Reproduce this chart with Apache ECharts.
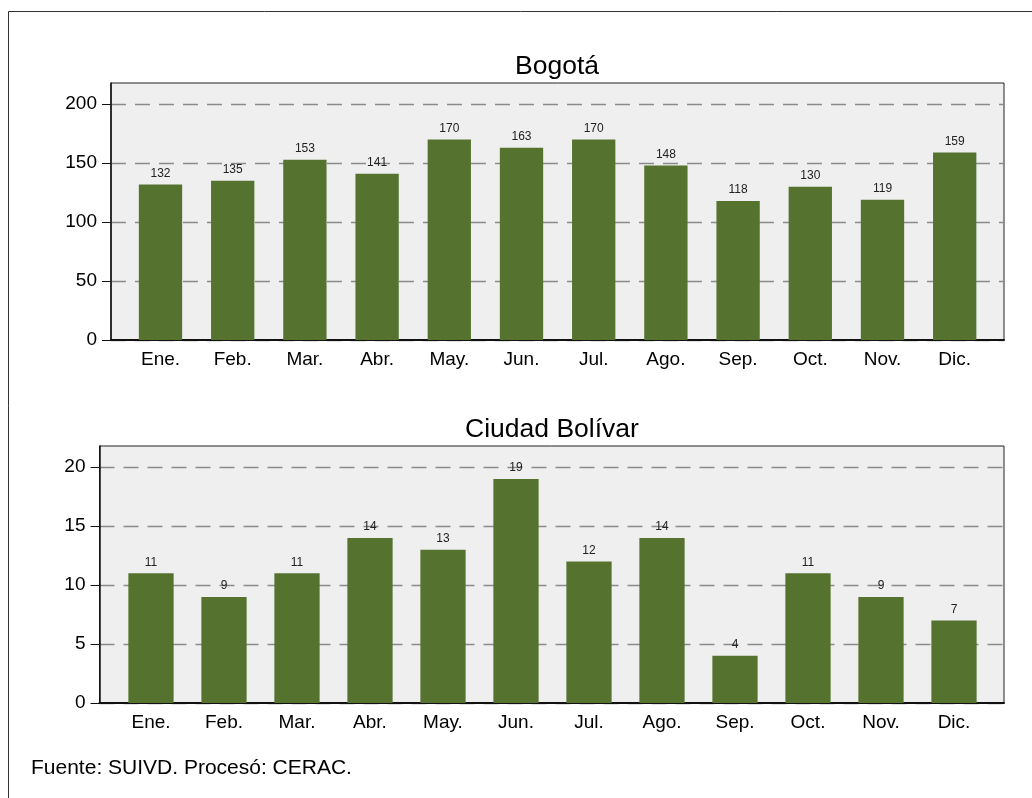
<!DOCTYPE html>
<html>
<head>
<meta charset="utf-8">
<style>
  html, body { margin: 0; padding: 0; background: #fff; }
  #chart { width: 1032px; height: 798px; }
</style>
<script src="https://cdn.jsdelivr.net/npm/echarts@6/dist/echarts.min.js"></script>
</head>
<body>
<div id="chart"></div>
<script>
const months = ['Ene.', 'Feb.', 'Mar.', 'Abr.', 'May.', 'Jun.', 'Jul.', 'Ago.', 'Sep.', 'Oct.', 'Nov.', 'Dic.']
const bogota = [132, 135, 153, 141, 170, 163, 170, 148, 118, 130, 119, 159]
const ciudadBolivar = [11, 9, 11, 14, 13, 19, 12, 14, 4, 11, 9, 7]
const bogotaTicks = [0, 50, 100, 150, 200]
const bolivarTicks = [0, 5, 10, 15, 20]
const bogotaMax = 218
const bolivarMax = 21.8

const font = 'Liberation Sans, Arial, sans-serif'
const barColor = '#55732f'

// frame axes: grey box, y ticks and dashed lines
function frameY(ticks, max, gridIndex) {
  return {
    type: 'value',
    gridIndex,
    min: 0,
    max,
    axisLine: { show: true, lineStyle: { color: '#111', width: 1.5 } },
    axisTick: { show: true, length: 9, customValues: ticks, lineStyle: { color: '#111', width: 1 } },
    axisLabel: { customValues: ticks, fontSize: 19, color: '#000', fontFamily: font, margin: 14 },
    splitLine: { show: true, lineStyle: { color: '#8a8a8a', type: [15, 9], width: 1.3 } }
  }
}
function frameX(gridIndex) {
  return {
    type: 'value',
    gridIndex,
    min: 0,
    max: 1,
    axisLine: { show: true, lineStyle: { color: '#111', width: 2 } },
    axisTick: { show: false },
    axisLabel: { show: false },
    splitLine: { show: false }
  }
}
function barX(gridIndex) {
  return {
    type: 'category',
    gridIndex,
    data: months,
    axisLine: { show: false },
    axisTick: { show: false },
    axisLabel: { fontSize: 19, color: '#000', fontFamily: font, margin: 10 }
  }
}
function barY(max, gridIndex) {
  return { type: 'value', gridIndex, min: 0, max, show: false, splitLine: { show: false } }
}
function barSeries(data, idx, width) {
  return {
    type: 'bar',
    xAxisIndex: idx,
    yAxisIndex: idx,
    data,
    barWidth: width,
    itemStyle: { color: barColor },
    label: { show: true, position: 'top', distance: 5, fontSize: 12, color: '#222', fontFamily: font },
    animation: false
  }
}

const chart = echarts.init(document.getElementById('chart'))
chart.setOption({
  backgroundColor: '#fff',
  animation: false,
  title: [
    { text: 'Bogotá', left: 557, top: 53, textAlign: 'center', padding: 0,
      textStyle: { fontSize: 26.5, fontWeight: 'normal', color: '#000', fontFamily: font } },
    { text: 'Ciudad Bolívar', left: 552, top: 416, textAlign: 'center', padding: 0,
      textStyle: { fontSize: 26.5, fontWeight: 'normal', color: '#000', fontFamily: font } },
    { text: 'Fuente: SUIVD. Procesó: CERAC.', left: 31, top: 758, padding: 0,
      textStyle: { fontSize: 21, fontWeight: 'normal', color: '#000', fontFamily: font } }
  ],
  graphic: [{
    type: 'rect',
    shape: { x: 8.5, y: 11.5, width: 1100, height: 900 },
    style: { fill: 'none', stroke: '#333', lineWidth: 1 },
    silent: true
  }],
  grid: [
    { left: 111, top: 83, width: 893, height: 257, show: true, backgroundColor: '#efefef', borderColor: '#222', borderWidth: 1 },
    { left: 124.4, top: 83, width: 866.4, height: 257 },
    { left: 99.5, top: 446, width: 904.5, height: 257, show: true, backgroundColor: '#efefef', borderColor: '#222', borderWidth: 1 },
    { left: 114.5, top: 446, width: 876, height: 257 }
  ],
  xAxis: [frameX(0), barX(1), frameX(2), barX(3)],
  yAxis: [frameY(bogotaTicks, bogotaMax, 0), barY(bogotaMax, 1), frameY(bolivarTicks, bolivarMax, 2), barY(bolivarMax, 3)],
  series: [
    barSeries(bogota, 1, '60%'),
    barSeries(ciudadBolivar, 3, '62%')
  ]
})
</script>
</body>
</html>
